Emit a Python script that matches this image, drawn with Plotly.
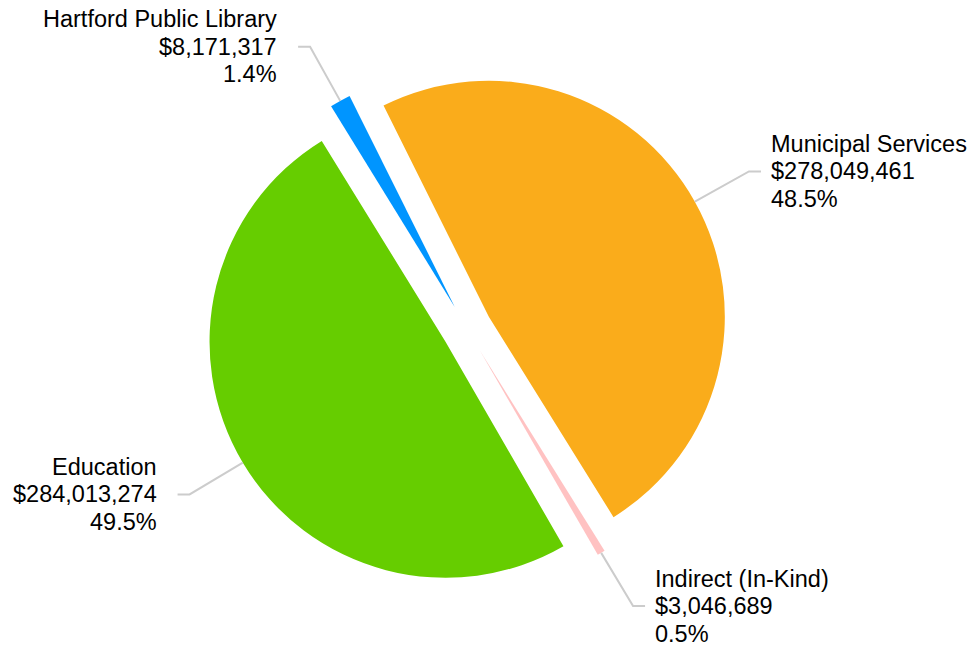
import math
import plotly.graph_objects as go

# ---- data ----
categories = ["Municipal Services", "Indirect (In-Kind)", "Education", "Hartford Public Library"]
values = [278049461, 3046689, 284013274, 8171317]
colors = ["#FAAC1B", "#FFC2C2", "#66CD00", "#0095FF"]

# ---- layout geometry (page body has an 8px margin) ----
W, H = 969, 639
ML, MR, MT, MB = 198, 249, 60, 57
PW, PH = W - ML - MR, H - MT - MB
PULL = 0.106
ROTATION = -26.5
FONT = "Liberation Sans, Arial, sans-serif"
FS = 23.5
LINE_H = 27.5

fig = go.Figure(go.Pie(
    labels=categories, values=values, sort=False, direction="clockwise",
    rotation=ROTATION, pull=[PULL] * len(values),
    marker=dict(colors=colors, line=dict(width=0)),
    textinfo="none", hoverinfo="label+value+percent", showlegend=False,
))

# replicate plotly's pie geometry to place labels & connectors
r = min(PW, PH) / 2 / (1 + PULL)
cx, cy = ML + PW / 2, MT + PH / 2
total = sum(values)


def to_paper(px, py):
    return (px - ML) / PW, 1 - (py - MT) / PH


shapes, annotations = [], []
ang = ROTATION
for lab, v in zip(categories, values):
    span = 360 * v / total
    mid = math.radians(ang + span / 2)
    ang += span
    ux, uy = math.sin(mid), -math.cos(mid)
    scx, scy = cx + PULL * r * ux, cy + PULL * r * uy
    p0 = (scx + r * ux, scy + r * uy)
    p1 = (p0[0] + 62 * ux, p0[1] + 62 * uy)
    sgn = 1 if ux > 0 else -1
    p2 = (p1[0] + 12 * sgn, p1[1])
    pts = [to_paper(*p) for p in (p0, p1, p2)]
    path = "M {} {} L {} {} L {} {}".format(*[c for p in pts for c in p])
    shapes.append(dict(type="path", xref="paper", yref="paper", path=path,
                       line=dict(color="#cccccc", width=2)))
    tx = p2[0] + (8 if sgn > 0 else -19)
    lines = [lab, "${:,}".format(v), "{:.1f}%".format(100 * v / total)]
    for k, t in enumerate(lines):
        x, y = to_paper(tx, p2[1] + (k - 1) * LINE_H)
        annotations.append(dict(
            text=t, x=x, y=y, xref="paper", yref="paper", showarrow=False,
            xanchor="left" if sgn > 0 else "right", yanchor="middle",
            font=dict(family=FONT, size=FS, color="#000000"),
        ))

fig.update_layout(
    width=W, height=H,
    margin=dict(l=ML, r=MR, t=MT, b=MB, autoexpand=False),
    paper_bgcolor="white", plot_bgcolor="white",
    shapes=shapes, annotations=annotations,
)

fig.write_html("out.html")
